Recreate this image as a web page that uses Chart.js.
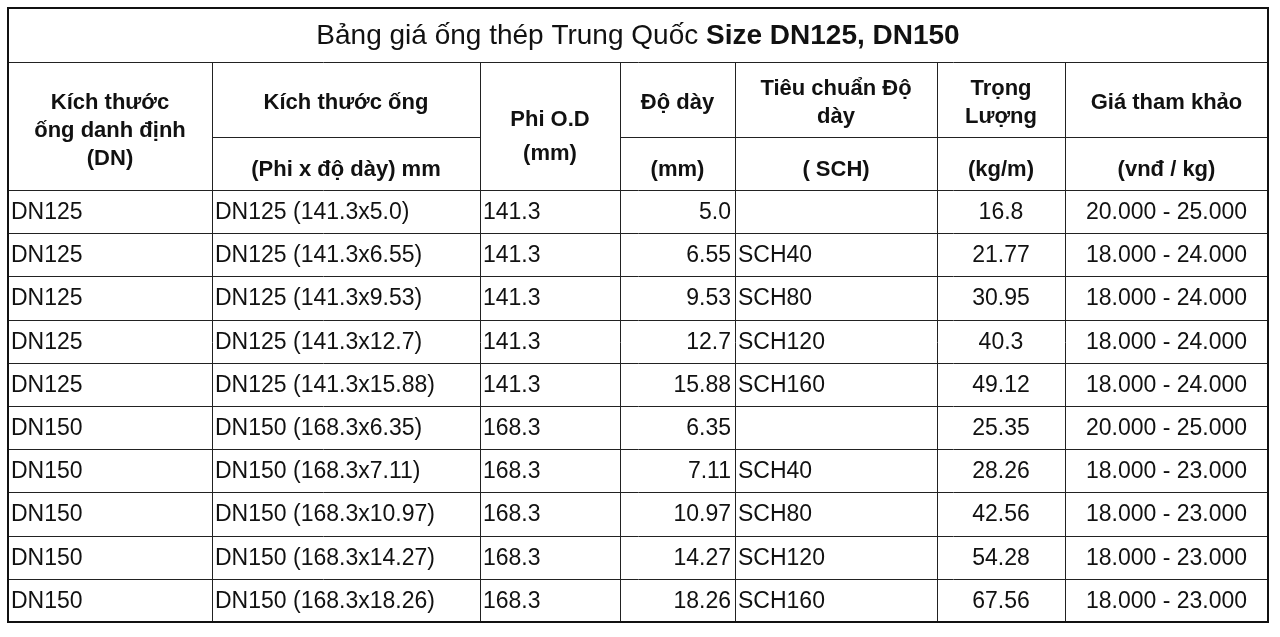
<!DOCTYPE html>
<html><head><meta charset="utf-8">
<script src="https://cdn.jsdelivr.net/npm/chart.js@4.4.0/dist/chart.umd.min.js"></script>
<style>html,body{margin:0;padding:0;background:#fff}#c{display:block}</style>
</head><body>
<div style="width:1280px;height:637px"><canvas id="c"></canvas></div>
<script>
const titleNormal = "Bảng giá ống thép Trung Quốc ";
const titleBold = "Size DN125, DN150";
const headTop = ["Kích thước\nống danh định\n(DN)", "Kích thước ống", "Phi O.D\n(mm)", "Độ dày", "Tiêu chuẩn Độ\ndày", "Trọng\nLượng", "Giá tham khảo"];
const headBottom = [null, "(Phi x độ dày) mm", null, "(mm)", "( SCH)", "(kg/m)", "(vnđ / kg)"];
const dn = ["DN125","DN125","DN125","DN125","DN125","DN150","DN150","DN150","DN150","DN150"];
const size = ["DN125 (141.3x5.0)","DN125 (141.3x6.55)","DN125 (141.3x9.53)","DN125 (141.3x12.7)","DN125 (141.3x15.88)","DN150 (168.3x6.35)","DN150 (168.3x7.11)","DN150 (168.3x10.97)","DN150 (168.3x14.27)","DN150 (168.3x18.26)"];
const od = ["141.3","141.3","141.3","141.3","141.3","168.3","168.3","168.3","168.3","168.3"];
const thick = ["5.0","6.55","9.53","12.7","15.88","6.35","7.11","10.97","14.27","18.26"];
const sch = ["","SCH40","SCH80","SCH120","SCH160","","SCH40","SCH80","SCH120","SCH160"];
const weight = ["16.8","21.77","30.95","40.3","49.12","25.35","28.26","42.56","54.28","67.56"];
const price = ["20.000 - 25.000","18.000 - 24.000","18.000 - 24.000","18.000 - 24.000","18.000 - 24.000","20.000 - 25.000","18.000 - 23.000","18.000 - 23.000","18.000 - 23.000","18.000 - 23.000"];

const colEdges = [8, 212, 480, 620, 735, 937, 1065, 1268];
const align = ["left","left","left","right","left","center","center"];
const yTop = 8, yTitle = 62, yMid = 137, yHead = 190, yBottom = 622;
const FONT = "'Liberation Sans', Arial, sans-serif";

const tablePlugin = {
  id: 'table',
  afterDraw(chart) {
    const ctx = chart.ctx, X = v => chart.scales.x.getPixelForValue(v), Y = v => chart.scales.y.getPixelForValue(v);
    const cols = [dn, size, od, thick, sch, weight, price];
    const nRows = dn.length, rh = (yBottom - yHead) / nRows;
    ctx.save();
    ctx.strokeStyle = '#222'; ctx.lineWidth = 1;
    const line = (x1,y1,x2,y2) => { ctx.beginPath(); ctx.moveTo(Math.round(X(x1))+0.5, Math.round(Y(y1))+0.5); ctx.lineTo(Math.round(X(x2))+0.5, Math.round(Y(y2))+0.5); ctx.stroke(); };
    line(colEdges[0], yTitle, colEdges[7], yTitle);
    line(colEdges[0], yHead, colEdges[7], yHead);
    for (let c = 1; c < 7; c++) line(colEdges[c], yTitle, colEdges[c], yBottom);
    for (let c = 0; c < 7; c++) if (headBottom[c] !== null) line(colEdges[c], yMid, colEdges[c+1], yMid);
    for (let r = 1; r < nRows; r++) line(colEdges[0], yHead + r*rh, colEdges[7], yHead + r*rh);
    ctx.lineWidth = 2; ctx.strokeStyle = '#111';
    ctx.strokeRect(X(colEdges[0]), Y(yTop), X(colEdges[7]) - X(colEdges[0]), Y(yBottom) - Y(yTop));
    ctx.fillStyle = '#111'; ctx.textBaseline = 'middle';
    ctx.font = `28px ${FONT}`; const w1 = ctx.measureText(titleNormal).width;
    ctx.font = `bold 28px ${FONT}`; const w2 = ctx.measureText(titleBold).width;
    const tx = (X(colEdges[0]) + X(colEdges[7]))/2 - (w1+w2)/2, ty = Y((yTop+yTitle)/2)+1;
    ctx.textAlign = 'left';
    ctx.font = `28px ${FONT}`; ctx.fillText(titleNormal, tx, ty);
    ctx.font = `bold 28px ${FONT}`; ctx.fillText(titleBold, tx + w1, ty);
    ctx.font = `bold 22px ${FONT}`; ctx.textAlign = 'center';
    const multi = (txt, cx, cy, lh) => { const ls = txt.split('\n'); ls.forEach((l,i)=>ctx.fillText(l, cx, cy + (i-(ls.length-1)/2)*lh)); };
    for (let c = 0; c < 7; c++) {
      const cx = (X(colEdges[c]) + X(colEdges[c+1]))/2;
      if (headBottom[c] === null) {
        if (c === 0) multi(headTop[c], cx, Y(131), 28);
        else multi(headTop[c], cx, Y(137), 34);
      } else {
        multi(headTop[c], cx, Y((yTitle+yMid)/2 + 3), 28);
        multi(headBottom[c], cx, Y((yMid+yHead)/2 + 6), 28);
      }
    }
    ctx.font = `23px ${FONT}`;
    for (let r = 0; r < nRows; r++) {
      const cy = Y(yHead + (r+0.5)*rh) + 1;
      for (let c = 0; c < 7; c++) {
        ctx.textAlign = align[c];
        let x;
        if (align[c] === 'left') x = X(colEdges[c]) + 3;
        else if (align[c] === 'right') x = X(colEdges[c+1]) - 4;
        else x = (X(colEdges[c]) + X(colEdges[c+1]))/2;
        ctx.fillText(cols[c][r], x, cy);
      }
    }
    ctx.restore();
  }
};

new Chart(document.getElementById('c'), {
  type: 'scatter',
  data: { datasets: [{ data: [], pointRadius: 0 }] },
  options: {
    responsive: true, maintainAspectRatio: false, animation: false,
    layout: { padding: 0 },
    plugins: { legend: { display: false }, tooltip: { enabled: false } },
    scales: {
      x: { type: 'linear', min: 0, max: 1280, display: false },
      y: { type: 'linear', min: 0, max: 637, reverse: true, display: false }
    }
  },
  plugins: [tablePlugin]
});
</script>
</body></html>
